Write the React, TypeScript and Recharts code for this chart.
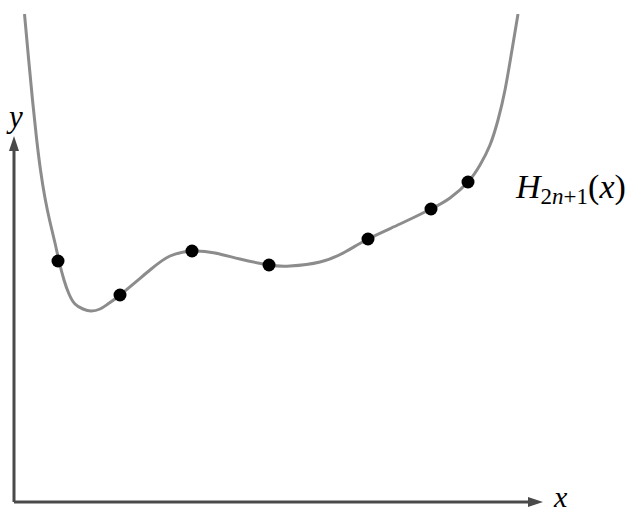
import React from 'react';
import { ComposedChart, Line, Scatter, XAxis, YAxis, ReferenceLine } from 'recharts';

// curve (x, y in axis units; origin at axis corner)
const curveX = [10.5, 14.5, 18.5, 22.5, 26.5, 31, 36, 41, 45, 50, 55, 61, 69, 77, 86, 94, 106, 136, 156, 178, 201, 226, 255, 276, 306, 331, 354, 386, 417, 436, 454, 466, 476, 484, 491, 498, 504];
const curveY = [488, 444, 402, 364, 332, 304, 280, 259, 241, 222, 208, 198, 193, 191, 193, 198, 207, 232, 246, 251, 249, 243, 237, 236, 240, 250, 263, 278, 293, 304, 320, 337, 357, 382, 412, 452, 488];

// interpolation nodes
const nodeX = [44, 106, 178, 255, 354, 417, 454];
const nodeY = [241, 207, 251, 237, 263, 293, 320];

const curveData = curveX.map((x, i) => ({ x, y: curveY[i] }));
const nodeData = nodeX.map((x, i) => ({ x, y: nodeY[i] }));

const AXIS_COLOR = '#4a4a4a';
const MATH_FONT = '"Liberation Serif", "DejaVu Serif", serif';

const Arrow = (props: any) => {
  const { x1, y1, x2, y2 } = props;
  const dx = x2 - x1;
  const dy = y2 - y1;
  const len = Math.sqrt(dx * dx + dy * dy) || 1;
  const ux = dx / len;
  const uy = dy / len;
  const headLen = 15;
  const headW = 5;
  const bx = x2 - ux * headLen;
  const by = y2 - uy * headLen;
  const pts = `${x2},${y2} ${bx - uy * headW},${by + ux * headW} ${bx + uy * headW},${by - ux * headW}`;
  return (
    <g>
      <line x1={x1} y1={y1} x2={bx + ux * 2} y2={by + uy * 2} stroke={AXIS_COLOR} strokeWidth={3} />
      <polygon points={pts} fill={AXIS_COLOR} />
    </g>
  );
};

const Node = (props: any) => <circle cx={props.cx} cy={props.cy} r={6.5} fill="#000" />;

const App = () => {
  return (
    <div style={{ position: 'absolute', left: 0, top: 0 }}>
      <ComposedChart width={637} height={513} margin={{ top: 14, right: 97, bottom: 11, left: 14 }}>
        <XAxis type="number" dataKey="x" domain={[0, 526]} hide allowDataOverflow />
        <YAxis type="number" dataKey="y" domain={[0, 488]} hide allowDataOverflow />
        <ReferenceLine segment={[{ x: 0, y: 0 }, { x: 529, y: 0 }]} ifOverflow="visible" shape={Arrow} />
        <ReferenceLine segment={[{ x: 0, y: 0 }, { x: 0, y: 366 }]} ifOverflow="visible" shape={Arrow} />
        <Line
          data={curveData}
          dataKey="y"
          type="natural"
          stroke="#8c8c8c"
          strokeWidth={3}
          dot={false}
          isAnimationActive={false}
        />
        <Scatter data={nodeData} dataKey="y" shape={Node} isAnimationActive={false} />
        <text x={9} y={127} fontFamily={MATH_FONT} fontStyle="italic" fontSize={31} fill="#000">y</text>
        <text x={554} y={507} fontFamily={MATH_FONT} fontStyle="italic" fontSize={30} fill="#000">x</text>
        <text x={516} y={198} fontFamily={MATH_FONT} fontSize={34} fill="#000">
          <tspan fontStyle="italic">H</tspan>
          <tspan fontSize={23} dy={6}>2</tspan>
          <tspan fontSize={23} fontStyle="italic">n</tspan>
          <tspan fontSize={23}>+1</tspan>
          <tspan dy={-6}>(</tspan>
          <tspan fontStyle="italic">x</tspan>
          <tspan>)</tspan>
        </text>
      </ComposedChart>
    </div>
  );
};

export default App;
